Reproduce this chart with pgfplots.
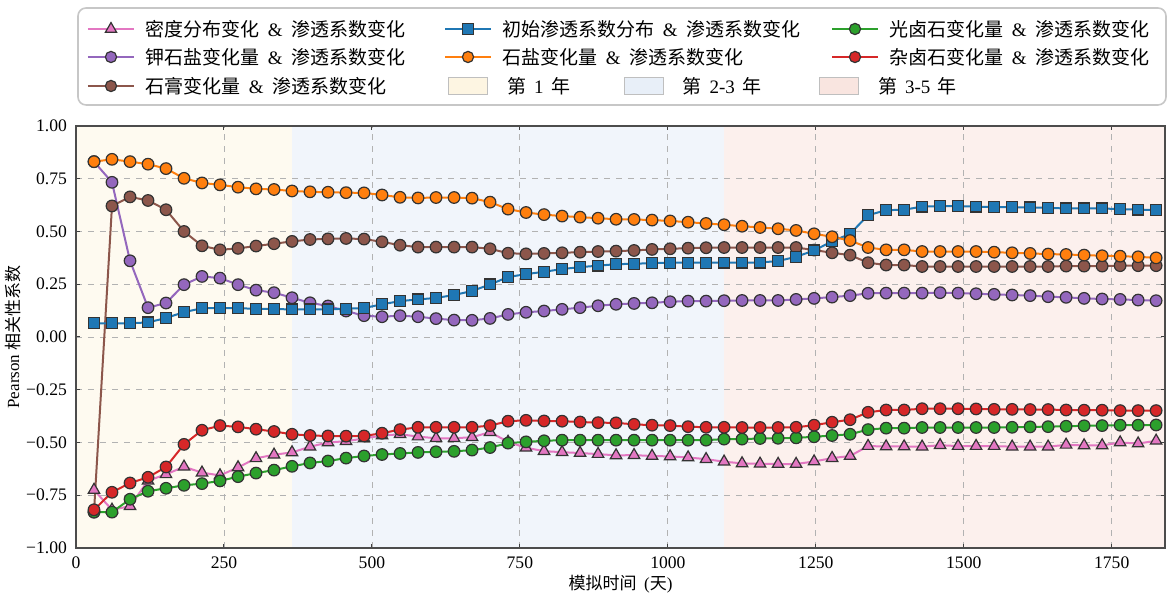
\documentclass[border=0pt]{standalone}
\usepackage{pgfplots}
\pgfplotsset{compat=1.18}
\usepackage{pgfplotstable}
\usepackage{fontspec}
\setmainfont{Liberation Serif}
\newfontfamily\cjk{Noto Sans CJK SC}

\definecolor{tabpink}{HTML}{E377C2}
\definecolor{tabblue}{HTML}{1F77B4}
\definecolor{tabgreen}{HTML}{2CA02C}
\definecolor{tabpurple}{HTML}{9467BD}
\definecolor{taborange}{HTML}{FF7F0E}
\definecolor{tabred}{HTML}{D62728}
\definecolor{tabbrown}{HTML}{8C564B}
\definecolor{yrone}{HTML}{FEFAF0}
\definecolor{yrtwo}{HTML}{F1F5FB}
\definecolor{yrthree}{HTML}{FCF0ED}
\definecolor{yronel}{HTML}{FDF5E2}
\definecolor{yrtwol}{HTML}{E8EFF8}
\definecolor{yrthreel}{HTML}{F9E5E0}

\newcommand{\amp}{\hspace{0.45em}\&\hspace{0.45em}}
\newcommand{\legfont}{\fontsize{9.5}{11}\selectfont}

% day, density, initial permeability, carnallite, sylvite, halite, polyhalite, gypsum
\pgfplotstableread{
day dens perm carn sylv hal poly gyp
30.4 -0.725 0.065 -0.830 0.831 0.831 -0.819 -0.830
60.8 -0.819 0.065 -0.830 0.733 0.842 -0.736 0.621
91.3 -0.802 0.065 -0.769 0.361 0.831 -0.692 0.664
121.7 -0.681 0.069 -0.731 0.139 0.819 -0.665 0.647
152.1 -0.651 0.090 -0.717 0.161 0.798 -0.616 0.603
182.5 -0.615 0.118 -0.703 0.248 0.752 -0.509 0.500
212.9 -0.643 0.136 -0.695 0.287 0.730 -0.442 0.432
243.3 -0.656 0.137 -0.682 0.279 0.721 -0.420 0.413
273.8 -0.618 0.136 -0.662 0.248 0.710 -0.426 0.420
304.2 -0.575 0.134 -0.645 0.222 0.702 -0.437 0.431
334.6 -0.558 0.132 -0.631 0.210 0.699 -0.448 0.442
365.0 -0.547 0.131 -0.613 0.186 0.692 -0.461 0.453
395.4 -0.520 0.131 -0.597 0.162 0.688 -0.467 0.462
425.8 -0.500 0.131 -0.588 0.147 0.686 -0.469 0.465
456.3 -0.494 0.134 -0.574 0.123 0.684 -0.470 0.467
486.7 -0.481 0.137 -0.564 0.101 0.683 -0.469 0.464
517.1 -0.467 0.155 -0.557 0.096 0.673 -0.456 0.451
547.5 -0.461 0.170 -0.552 0.101 0.662 -0.439 0.435
577.9 -0.472 0.178 -0.547 0.096 0.659 -0.428 0.426
608.3 -0.480 0.185 -0.544 0.087 0.661 -0.428 0.426
638.8 -0.480 0.199 -0.542 0.080 0.661 -0.428 0.426
669.2 -0.475 0.218 -0.536 0.079 0.658 -0.428 0.426
699.6 -0.451 0.249 -0.524 0.088 0.639 -0.420 0.418
730.0 -0.497 0.284 -0.503 0.107 0.606 -0.399 0.397
760.4 -0.525 0.298 -0.497 0.117 0.590 -0.395 0.394
790.8 -0.541 0.309 -0.492 0.123 0.580 -0.398 0.396
821.3 -0.546 0.322 -0.489 0.131 0.573 -0.399 0.399
851.7 -0.550 0.331 -0.489 0.139 0.568 -0.403 0.402
882.1 -0.555 0.338 -0.489 0.148 0.563 -0.406 0.405
912.5 -0.561 0.345 -0.489 0.155 0.558 -0.407 0.407
942.9 -0.560 0.347 -0.489 0.159 0.557 -0.414 0.410
973.3 -0.564 0.350 -0.489 0.162 0.554 -0.418 0.415
1003.8 -0.566 0.352 -0.489 0.167 0.550 -0.420 0.418
1034.2 -0.571 0.352 -0.489 0.170 0.544 -0.425 0.421
1064.6 -0.579 0.352 -0.489 0.170 0.538 -0.428 0.423
1095.0 -0.591 0.353 -0.484 0.172 0.532 -0.428 0.424
1125.4 -0.599 0.353 -0.484 0.173 0.525 -0.429 0.424
1155.8 -0.601 0.353 -0.481 0.173 0.519 -0.429 0.424
1186.3 -0.602 0.360 -0.480 0.173 0.513 -0.429 0.424
1216.7 -0.602 0.380 -0.478 0.178 0.505 -0.428 0.424
1247.1 -0.590 0.410 -0.473 0.183 0.489 -0.418 0.412
1277.5 -0.574 0.453 -0.467 0.189 0.475 -0.404 0.399
1307.9 -0.564 0.489 -0.461 0.196 0.457 -0.392 0.388
1338.3 -0.517 0.577 -0.439 0.207 0.424 -0.357 0.352
1368.8 -0.519 0.601 -0.432 0.208 0.413 -0.346 0.341
1399.2 -0.519 0.603 -0.432 0.208 0.413 -0.346 0.341
1429.6 -0.520 0.618 -0.429 0.208 0.405 -0.340 0.334
1460.0 -0.513 0.620 -0.429 0.210 0.405 -0.340 0.334
1490.4 -0.517 0.620 -0.429 0.208 0.405 -0.340 0.334
1520.8 -0.517 0.618 -0.429 0.205 0.405 -0.341 0.334
1551.3 -0.517 0.615 -0.429 0.202 0.402 -0.343 0.334
1581.7 -0.520 0.615 -0.428 0.199 0.399 -0.343 0.334
1612.1 -0.520 0.614 -0.426 0.196 0.396 -0.344 0.334
1642.5 -0.520 0.612 -0.425 0.191 0.393 -0.344 0.334
1672.9 -0.511 0.609 -0.423 0.188 0.391 -0.346 0.336
1703.3 -0.514 0.609 -0.421 0.183 0.388 -0.347 0.336
1733.8 -0.514 0.609 -0.420 0.180 0.385 -0.347 0.336
1764.2 -0.500 0.606 -0.418 0.178 0.383 -0.349 0.338
1794.6 -0.505 0.604 -0.418 0.175 0.380 -0.349 0.338
1825.0 -0.492 0.601 -0.417 0.172 0.375 -0.349 0.338
}\corr

% legend helpers: x and y of the handle centre in pt
\newcommand{\lineentry}[6]{%
  \draw[#3, line width=1pt] ({(#1-11.5)*1pt},{#2*1pt}) -- ({(#1+11.5)*1pt},{#2*1pt});
  \path plot[mark=#4, mark size=#5, mark options={fill=#3, draw=black!80, line width=0.6pt}]
    coordinates {({#1*1pt},{#2*1pt})};
  \node[anchor=west, inner sep=0pt, font=\legfont] at ({(#1+17)*1pt},{#2*1pt}) {#6};
}
\newcommand{\patchentry}[4]{%
  \draw[#3, draw=black!25, line width=0.5pt] ({(#1-9.75)*1pt},{(#2-4.25)*1pt}) rectangle ({(#1+9.75)*1pt},{(#2+4.25)*1pt});
  \node[anchor=west, inner sep=0pt, font=\legfont] at ({(#1+19.5)*1pt},{#2*1pt}) {#4};
}

\begin{document}
\begin{tikzpicture}
\begin{axis}[
  set layers,
  scale only axis,
  width=544.5pt, height=211pt,
  xmin=0, xmax=1840, ymin=-1, ymax=1,
  xtick={0,250,500,750,1000,1250,1500,1750},
  xticklabels={0,250,500,750,1000,1250,1500,1750},
  ytick={-1,-0.75,-0.5,-0.25,0,0.25,0.5,0.75,1},
  yticklabels={−1.00,−0.75,−0.50,−0.25,0.00,0.25,0.50,0.75,1.00},
  tick align=inside,
  major tick length=2pt,
  tick style={black!75, line width=0.5pt},
  axis line style={black!70, line width=0.7pt},
  grid=major,
  grid style={dashed, black!30, line width=0.4pt},
  ticklabel style={font=\fontsize{8.8}{10}\selectfont},
  xticklabel style={yshift=-1pt},
  yticklabel style={xshift=-1pt},
  label style={font=\fontsize{8.5}{10}\selectfont},
  xlabel={{\cjk 模拟时间}\hspace{0.45em}({\cjk 天})},
  ylabel={Pearson {\cjk 相关性系数}},
  xlabel style={yshift=3.5pt},
  ylabel style={yshift=-4pt},
  every axis plot/.append style={line width=1pt},
]
% simulation periods
\addplot[draw=none, fill=yrone, on layer=axis background, forget plot]
  coordinates {(0,-1) (0,1) (365,1) (365,-1)} -- cycle;
\addplot[draw=none, fill=yrtwo, on layer=axis background, forget plot]
  coordinates {(365,-1) (365,1) (1095,1) (1095,-1)} -- cycle;
\addplot[draw=none, fill=yrthree, on layer=axis background, forget plot]
  coordinates {(1095,-1) (1095,1) (1840,1) (1840,-1)} -- cycle;

\addplot[tabpink, mark=triangle*, mark size=3.3pt,
  mark options={fill=tabpink, draw=black!80, line width=0.6pt}] table[x=day, y=dens] {\corr};
\addplot[tabpurple, mark=*, mark size=2.9pt,
  mark options={fill=tabpurple, draw=black!80, line width=0.6pt}] table[x=day, y=sylv] {\corr};
\addplot[tabbrown, mark=*, mark size=2.9pt,
  mark options={fill=tabbrown, draw=black!80, line width=0.6pt}] table[x=day, y=gyp] {\corr};
\addplot[tabblue, mark=square*, mark size=2.7pt,
  mark options={fill=tabblue, draw=black!80, line width=0.6pt}] table[x=day, y=perm] {\corr};
\addplot[taborange, mark=*, mark size=2.9pt,
  mark options={fill=taborange, draw=black!80, line width=0.6pt}] table[x=day, y=hal] {\corr};
\addplot[tabgreen, mark=*, mark size=2.9pt,
  mark options={fill=tabgreen, draw=black!80, line width=0.6pt}] table[x=day, y=carn] {\corr};
\addplot[tabred, mark=*, mark size=2.9pt,
  mark options={fill=tabred, draw=black!80, line width=0.6pt}] table[x=day, y=poly] {\corr};
\end{axis}

% legend
\draw[black!22, line width=0.8pt, rounded corners=4pt, fill=white] (1pt,221.5pt) rectangle (545pt,270pt);
\lineentry{17.5}{259.5}{tabpink}{triangle*}{3.2pt}{{\cjk 密度分布变化}\amp{\cjk 渗透系数变化}}
\lineentry{17.5}{245.5}{tabpurple}{*}{2.8pt}{{\cjk 钾石盐变化量}\amp{\cjk 渗透系数变化}}
\lineentry{17.5}{231}{tabbrown}{*}{2.8pt}{{\cjk 石膏变化量}\amp{\cjk 渗透系数变化}}
\lineentry{196}{259.5}{tabblue}{square*}{2.6pt}{{\cjk 初始渗透系数分布}\amp{\cjk 渗透系数变化}}
\lineentry{196}{245.5}{taborange}{*}{2.8pt}{{\cjk 石盐变化量}\amp{\cjk 渗透系数变化}}
\lineentry{389.5}{259.5}{tabgreen}{*}{2.8pt}{{\cjk 光卤石变化量}\amp{\cjk 渗透系数变化}}
\lineentry{389.5}{245.5}{tabred}{*}{2.8pt}{{\cjk 杂卤石变化量}\amp{\cjk 渗透系数变化}}
\patchentry{196}{231}{fill=yronel}{{\cjk 第}\hspace{0.4em}1\hspace{0.4em}{\cjk 年}}
\patchentry{283.75}{231}{fill=yrtwol}{{\cjk 第}\hspace{0.4em}2-3\hspace{0.4em}{\cjk 年}}
\patchentry{381.5}{231}{fill=yrthreel}{{\cjk 第}\hspace{0.4em}3-5\hspace{0.4em}{\cjk 年}}

% fixed page frame
\pgfresetboundingbox
\useasboundingbox (-38pt,-24.5pt) rectangle (546pt,274pt);
\end{tikzpicture}
\end{document}
